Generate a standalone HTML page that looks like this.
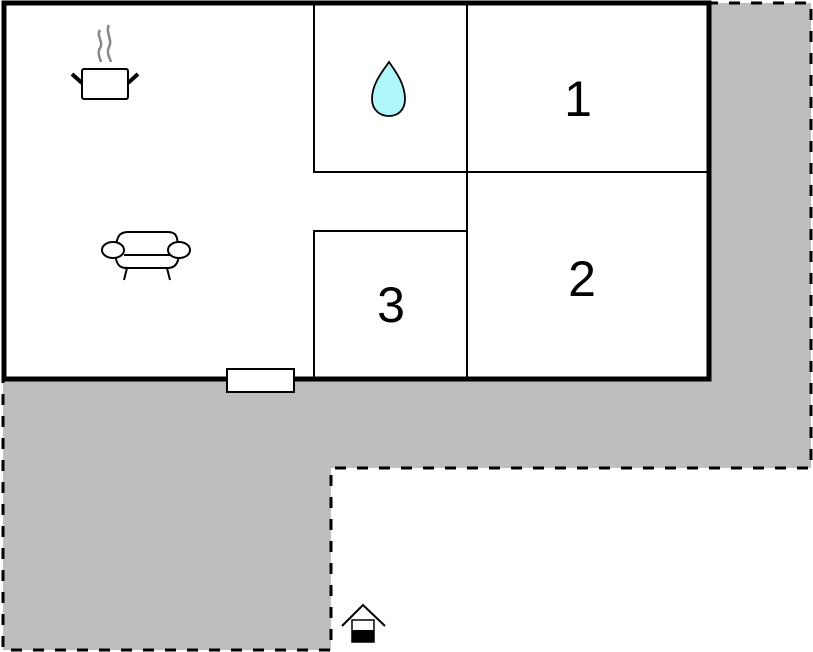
<!DOCTYPE html>
<html><head><meta charset="utf-8"><style>
html,body{margin:0;padding:0;background:#fff;}
svg{display:block;}
text{font-family:"Liberation Sans",sans-serif;}
</style></head><body>
<svg width="813" height="652" viewBox="0 0 813 652" xmlns="http://www.w3.org/2000/svg">
<polygon points="3,3 811,3 811,468 331,468 331,650 3,650" fill="#bebebe" stroke="#000" stroke-width="3" stroke-dasharray="11,11"/>
<rect x="4" y="3" width="705" height="376" fill="#fff" stroke="#000" stroke-width="5"/>
<g stroke="#000" stroke-width="2" fill="none">
<polyline points="314,3 314,172 710,172"/>
<line x1="467" y1="3" x2="467" y2="380"/>
<polyline points="314,380 314,231 467,231"/>
</g>
<rect x="227" y="369" width="67" height="23" fill="#fff" stroke="#000" stroke-width="2"/>
<text x="578" y="116" font-size="50" text-anchor="middle">1</text>
<text x="582" y="296" font-size="50" text-anchor="middle">2</text>
<text x="391" y="322" font-size="50" text-anchor="middle">3</text>
<path d="M389,62 C382,72 372,84 372,99 C372,110 380,116 389,116 C398,116 405,110 405,99 C405,84 396,72 389,62 Z" fill="#aff6fb" stroke="#000" stroke-width="1.8"/>
<!-- pot -->
<g stroke="#888" stroke-width="2.5" fill="none">
<path d="M100,30 C96,36 104,42 100,48 C97,53 100,58 101,62"/>
<path d="M109,25 C105,32 113,40 109,47 C106,53 110,58 111,62"/>
</g>
<rect x="82" y="69" width="46" height="30" rx="2" fill="#fff" stroke="#000" stroke-width="2"/>
<line x1="72" y1="74" x2="82" y2="83" stroke="#000" stroke-width="4"/>
<line x1="138" y1="74" x2="128" y2="83" stroke="#000" stroke-width="4"/>
<!-- sofa -->
<g stroke="#000" stroke-width="2" fill="#fff">
<path d="M116,250 C116,236 120,232 128,232 L168,232 C176,232 178,236 178,250"/>
<path d="M115,252 C116,268 122,268 128,268 L168,268 C176,268 179,262 179,252"/>
<line x1="124" y1="255" x2="170" y2="255"/>
<ellipse cx="113" cy="250" rx="11" ry="8"/>
<ellipse cx="179" cy="250" rx="11" ry="8"/>
<line x1="127" y1="268" x2="124" y2="280"/>
<line x1="167" y1="268" x2="170" y2="280"/>
</g>
<!-- entrance -->
<polyline points="342,626 363,605 385,626" fill="none" stroke="#000" stroke-width="2"/>
<rect x="352" y="620" width="22" height="22" fill="#fff" stroke="#000" stroke-width="1.5"/>
<rect x="352" y="630" width="22" height="12" fill="#000"/>
</svg>
</body></html>
